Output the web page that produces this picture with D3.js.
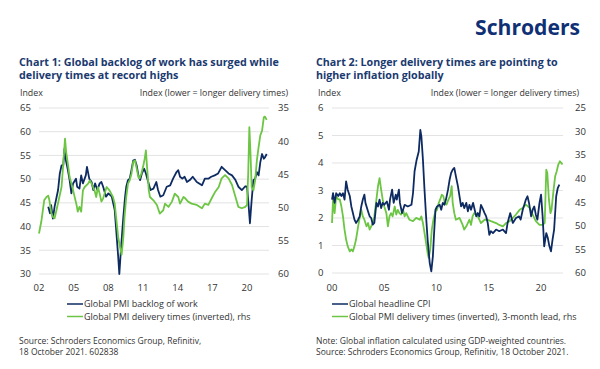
<!DOCTYPE html>
<html>
<head>
<meta charset="utf-8">
<script src="https://cdn.jsdelivr.net/npm/d3@7"></script>
<style>
  body { margin: 0; background: #fff; }
  svg { display: block; font-family: "Open Sans", "Noto Sans", sans-serif; }
</style>
</head>
<body>
<svg id="chart" width="600" height="369"></svg>
<script>
// Chart 1 data: [decimal year, value]
const backlogOfWork = [
  [2002.8, 44.2], [2002.95, 42.8], [2003.05, 44.5], [2003.2, 41.7], [2003.35, 44.2],
  [2003.65, 47.7], [2003.8, 51.2], [2003.95, 52.9], [2004.1, 52.9], [2004.2, 56.4],
  [2004.3, 54.3], [2004.5, 51.9], [2004.65, 49.8], [2004.8, 47.0], [2004.95, 49.1],
  [2005.2, 50.1], [2005.3, 48.4], [2005.5, 48.0], [2005.65, 50.8], [2005.8, 49.1],
  [2006.05, 50.8], [2006.15, 52.6], [2006.35, 50.1], [2006.55, 49.4], [2006.7, 47.7],
  [2006.85, 49.1], [2007.05, 47.7], [2007.25, 49.1], [2007.4, 49.4], [2007.55, 48.4],
  [2007.8, 46.3], [2008.0, 47.0], [2008.3, 46.3], [2008.55, 43.5], [2008.7, 38.6],
  [2008.85, 33.7], [2008.95, 30.0], [2009.05, 33.7], [2009.15, 37.2], [2009.3, 42.1],
  [2009.45, 46.3], [2009.55, 48.4], [2009.7, 49.8], [2009.85, 50.1], [2010.0, 51.9],
  [2010.15, 53.9], [2010.3, 54.1], [2010.45, 52.9], [2010.6, 50.8], [2010.75, 49.8],
  [2010.9, 51.2], [2011.1, 52.2], [2011.25, 51.2], [2011.45, 49.4], [2011.65, 47.7],
  [2011.9, 48.0], [2012.15, 49.4], [2012.3, 47.7], [2012.5, 46.3], [2012.75, 46.6],
  [2013.05, 48.4], [2013.35, 48.7], [2013.6, 50.1], [2013.9, 51.5], [2014.05, 51.9],
  [2014.2, 50.5], [2014.4, 50.1], [2014.6, 50.5], [2014.8, 49.4], [2015.05, 49.8],
  [2015.3, 50.5], [2015.65, 49.4], [2016.1, 48.7], [2016.35, 50.1], [2016.65, 50.1],
  [2016.9, 50.5], [2017.2, 50.8], [2017.5, 51.2], [2017.8, 52.6], [2018.1, 51.9],
  [2018.4, 51.2], [2018.7, 50.8], [2019.0, 49.8], [2019.25, 48.4], [2019.55, 47.7],
  [2019.85, 48.5], [2020.0, 48.4], [2020.1, 45.6], [2020.25, 40.7], [2020.4, 45.6],
  [2020.55, 49.8], [2020.7, 50.1], [2020.85, 51.5], [2021.0, 50.8], [2021.15, 53.6],
  [2021.3, 55.3], [2021.45, 54.3], [2021.55, 54.6], [2021.7, 55.3]
];
// rhs, inverted axis
const deliveryTimes1 = [
  [2002.0, 53.9], [2002.2, 52.1], [2002.45, 48.9], [2002.65, 48.4], [2002.8, 48.2],
  [2002.9, 48.9], [2003.05, 50.7], [2003.2, 51.4], [2003.35, 51.6], [2003.65, 49.3],
  [2003.95, 46.9], [2004.1, 43.4], [2004.25, 39.6], [2004.35, 41.6], [2004.5, 43.4],
  [2004.65, 45.4], [2004.95, 47.4], [2005.25, 49.6], [2005.35, 50.6], [2005.5, 49.9],
  [2005.65, 50.6], [2005.8, 47.4], [2005.95, 46.9], [2006.25, 46.4], [2006.4, 45.9],
  [2006.55, 46.4], [2006.8, 47.4], [2006.95, 48.4], [2007.1, 46.9], [2007.25, 47.9],
  [2007.4, 49.1], [2007.55, 48.6], [2007.85, 46.9], [2008.1, 47.4], [2008.4, 48.4],
  [2008.55, 49.4], [2008.7, 51.9], [2008.85, 54.4], [2009.0, 55.9], [2009.15, 57.1],
  [2009.3, 54.4], [2009.4, 51.4], [2009.55, 48.4], [2009.7, 46.4], [2009.85, 45.9],
  [2010.0, 44.9], [2010.15, 43.1], [2010.3, 42.9], [2010.45, 44.1], [2010.6, 45.4],
  [2010.7, 45.6], [2010.85, 44.9], [2011.0, 43.9], [2011.15, 42.6], [2011.25, 41.4],
  [2011.35, 43.9], [2011.5, 47.4], [2011.6, 48.4], [2011.9, 48.9], [2012.2, 49.6],
  [2012.45, 50.9], [2012.75, 50.4], [2012.9, 49.4], [2013.2, 49.9], [2013.5, 49.1],
  [2013.75, 47.9], [2014.05, 48.4], [2014.2, 49.4], [2014.5, 48.4], [2014.65, 48.6],
  [2014.9, 49.1], [2015.2, 49.4], [2015.65, 49.6], [2016.1, 50.1], [2016.35, 49.4],
  [2016.65, 49.6], [2017.0, 48.4], [2017.25, 47.6], [2017.55, 46.9], [2017.8, 45.6],
  [2018.1, 45.1], [2018.4, 45.6], [2018.7, 46.6], [2019.0, 48.4], [2019.25, 49.9],
  [2019.55, 50.1], [2019.85, 49.9], [2020.0, 49.6], [2020.1, 44.9], [2020.2, 37.9],
  [2020.3, 41.9], [2020.4, 46.9], [2020.55, 47.4], [2020.7, 45.9], [2020.85, 42.9],
  [2021.0, 40.9], [2021.15, 39.1], [2021.3, 38.4], [2021.45, 36.4], [2021.55, 36.3],
  [2021.7, 36.8]
];

// Chart 2 data
const headlineCPI = [
  [2000.0, 2.67], [2000.1, 2.9], [2000.25, 2.55], [2000.4, 2.9], [2000.6, 2.8],
  [2000.75, 2.9], [2000.9, 2.8], [2001.05, 2.9], [2001.2, 2.67], [2001.35, 3.33],
  [2001.5, 3.03], [2001.7, 2.8], [2001.85, 2.42], [2002.0, 2.18], [2002.15, 1.94],
  [2002.3, 1.82], [2002.5, 1.94], [2002.65, 2.06], [2002.8, 2.42], [2002.95, 2.67],
  [2003.1, 2.85], [2003.2, 2.55], [2003.45, 2.24], [2003.6, 2.06], [2003.75, 2.0],
  [2003.9, 1.76], [2004.05, 1.82], [2004.25, 2.55], [2004.4, 2.42], [2004.55, 2.67],
  [2004.7, 2.36], [2004.85, 2.55], [2005.0, 2.48], [2005.25, 2.6], [2005.45, 2.3],
  [2005.55, 2.67], [2005.75, 3.03], [2005.9, 2.55], [2006.1, 2.85], [2006.2, 2.67],
  [2006.4, 3.03], [2006.5, 2.55], [2006.7, 2.18], [2006.95, 2.48], [2007.25, 2.42],
  [2007.6, 2.48], [2007.75, 2.9], [2007.9, 3.7], [2008.1, 4.12], [2008.3, 4.42],
  [2008.45, 5.2], [2008.55, 4.97], [2008.7, 4.12], [2008.85, 3.03], [2009.0, 2.06],
  [2009.15, 1.21], [2009.35, 0.36], [2009.5, 0.06], [2009.65, 0.6], [2009.75, 1.33],
  [2009.9, 2.3], [2010.05, 2.42], [2010.3, 2.48], [2010.45, 2.3], [2010.6, 2.55],
  [2010.75, 2.48], [2010.9, 2.67], [2011.1, 3.03], [2011.25, 3.39], [2011.4, 3.64],
  [2011.55, 3.76], [2011.7, 3.82], [2011.85, 3.52], [2012.05, 3.15], [2012.2, 2.79],
  [2012.35, 2.42], [2012.5, 2.55], [2012.65, 2.36], [2012.85, 2.55], [2013.0, 2.24],
  [2013.15, 2.48], [2013.3, 2.3], [2013.5, 2.55], [2013.65, 2.3], [2013.8, 2.06],
  [2013.95, 2.18], [2014.1, 2.06], [2014.25, 2.48], [2014.4, 2.36], [2014.6, 2.18],
  [2014.75, 2.06], [2014.9, 1.82], [2015.05, 1.39], [2015.2, 1.52], [2015.4, 1.45],
  [2015.7, 1.58], [2016.0, 1.52], [2016.35, 1.58], [2016.65, 1.45], [2016.8, 1.82],
  [2017.05, 2.18], [2017.3, 1.82], [2017.6, 2.0], [2017.9, 2.06], [2018.05, 1.94],
  [2018.25, 2.3], [2018.4, 2.48], [2018.55, 2.67], [2018.7, 2.79], [2018.85, 2.55],
  [2019.05, 2.06], [2019.2, 2.3], [2019.35, 2.42], [2019.5, 2.12], [2019.65, 1.94],
  [2019.85, 2.55], [2020.0, 2.85], [2020.15, 2.06], [2020.3, 0.97], [2020.5, 1.45],
  [2020.65, 1.27], [2020.8, 0.97], [2020.95, 0.79], [2021.1, 1.21], [2021.25, 1.58],
  [2021.45, 2.79], [2021.6, 3.09], [2021.75, 3.21]
];
// rhs, inverted axis, 3-month lead
const deliveryTimes2 = [
  [2000.0, 49.4], [2000.1, 44.4], [2000.25, 47.3], [2000.4, 43.7], [2000.6, 44.4],
  [2000.75, 44.4], [2000.9, 45.9], [2001.05, 48.0], [2001.2, 50.8], [2001.35, 52.9],
  [2001.5, 54.3], [2001.7, 55.4], [2001.85, 55.0], [2002.0, 55.4], [2002.15, 54.3],
  [2002.3, 52.9], [2002.5, 50.1], [2002.65, 48.3], [2002.8, 46.6], [2002.95, 48.0],
  [2003.1, 48.7], [2003.3, 50.1], [2003.45, 49.4], [2003.6, 50.8], [2003.75, 50.1],
  [2003.9, 49.4], [2004.05, 48.0], [2004.25, 44.4], [2004.4, 41.6], [2004.55, 39.9],
  [2004.7, 42.3], [2004.85, 44.4], [2005.0, 45.9], [2005.2, 47.3], [2005.35, 50.1],
  [2005.5, 48.0], [2005.65, 47.3], [2005.8, 48.0], [2006.0, 45.9], [2006.15, 47.6],
  [2006.3, 46.6], [2006.45, 47.3], [2006.6, 47.6], [2006.8, 46.6], [2006.95, 48.0],
  [2007.1, 47.3], [2007.4, 48.7], [2007.75, 49.0], [2008.05, 48.3], [2008.4, 48.7],
  [2008.55, 48.0], [2008.7, 49.4], [2008.85, 51.5], [2009.0, 53.6], [2009.15, 55.8],
  [2009.25, 56.8], [2009.4, 55.0], [2009.55, 50.8], [2009.7, 48.7], [2009.9, 46.9],
  [2010.05, 46.6], [2010.2, 45.2], [2010.35, 44.4], [2010.5, 43.4], [2010.65, 43.7],
  [2010.8, 45.2], [2010.95, 45.5], [2011.15, 44.4], [2011.3, 43.7], [2011.45, 41.6],
  [2011.55, 45.2], [2011.7, 47.3], [2011.85, 48.7], [2012.2, 48.3], [2012.5, 49.8],
  [2012.65, 50.8], [2012.85, 50.1], [2013.15, 48.7], [2013.3, 49.8], [2013.45, 48.0],
  [2013.6, 47.3], [2013.95, 48.0], [2014.25, 49.4], [2014.6, 48.7], [2014.9, 48.7],
  [2015.2, 49.0], [2015.7, 49.4], [2016.0, 49.8], [2016.35, 50.1], [2016.65, 49.4],
  [2017.0, 49.0], [2017.3, 48.3], [2017.6, 47.6], [2017.95, 46.6], [2018.25, 46.2],
  [2018.55, 45.5], [2018.9, 46.2], [2019.2, 47.6], [2019.5, 49.0], [2019.85, 49.8],
  [2020.15, 49.8], [2020.35, 49.4], [2020.5, 38.1], [2020.6, 38.8], [2020.75, 44.4],
  [2020.9, 47.3], [2021.0, 46.6], [2021.2, 42.3], [2021.35, 39.5], [2021.5, 38.4],
  [2021.65, 37.0], [2021.8, 36.3], [2021.95, 36.7], [2022.05, 37.0]
];

const ticks1Left = [30, 35, 40, 45, 50, 55, 60, 65];
const ticks1Right = [35, 40, 45, 50, 55, 60];
const ticks1X = [2002, 2005, 2008, 2011, 2014, 2017, 2020];
const ticks2Left = [0, 1, 2, 3, 4, 5, 6];
const ticks2Right = [25, 30, 35, 40, 45, 50, 55, 60];
const ticks2X = [2000, 2005, 2010, 2015, 2020];

const NAVY = '#0d2b62';
const GREEN = '#6cc644';
const TITLE = '#1b3a6f';
const TEXT = '#333';

const svg = d3.select('#chart');

// logo
svg.append('text')
  .attr('x', 475).attr('y', 35)
  .attr('textLength', 105).attr('lengthAdjust', 'spacingAndGlyphs')
  .style('font-size', '22px').style('font-weight', 'bold')
  .style('fill', '#0f3074')
  .text('Schroders');

function drawPanel(p) {
  const g = svg.append('g');
  const x = d3.scaleLinear().domain(p.xDomain).range(p.xRange);
  const yL = d3.scaleLinear().domain(p.leftDomain).range([p.bottom, p.top]);
  const yR = d3.scaleLinear().domain(p.rightDomain).range([p.bottom, p.top]);

  // title, sized so the first line spans the same width as in the original
  const title = g.append('text')
    .attr('x', p.titleX).attr('y', 66)
    .style('font-size', '12px').style('font-weight', 'bold').style('fill', TITLE);
  p.title.forEach((t, i) => {
    title.append('tspan').attr('x', p.titleX).attr('dy', i === 0 ? 0 : 12.5).text(t);
  });
  const firstLen = title.select('tspan').node().getComputedTextLength();
  title.style('font-size', (12 * p.titleWidth / firstLen).toFixed(2) + 'px');

  // axis headers
  g.append('text').attr('x', p.leftLabelX).attr('y', 96)
    .style('font-size', '8.8px').style('fill', TEXT).text('Index');
  g.append('text').attr('x', p.rightHeaderX).attr('y', 96)
    .attr('text-anchor', 'end')
    .style('font-size', '8.8px').style('fill', TEXT)
    .text('Index (lower = longer delivery times)');

  // gridlines
  g.append('g').selectAll('line')
    .data(p.leftTicks)
    .join('line')
    .attr('x1', p.xRange[0]).attr('x2', p.xRange[1])
    .attr('y1', d => yL(d)).attr('y2', d => yL(d))
    .attr('stroke', '#e3e3e3').attr('stroke-width', 1);

  // left axis labels
  g.append('g').selectAll('text')
    .data(p.leftTicks)
    .join('text')
    .attr('x', p.leftLabelX).attr('y', d => yL(d)).attr('dy', '0.35em')
    .style('font-size', '9.5px').style('fill', TEXT)
    .text(d => d);

  // right axis labels
  g.append('g').selectAll('text')
    .data(p.rightTicks)
    .join('text')
    .attr('x', p.rightLabelX).attr('y', d => yR(d)).attr('dy', '0.35em')
    .style('font-size', '9.5px').style('fill', TEXT)
    .text(d => d);

  // x labels
  g.append('g').selectAll('text')
    .data(p.xTicks)
    .join('text')
    .attr('x', d => x(d)).attr('y', 291)
    .attr('text-anchor', 'middle')
    .style('font-size', '9.5px').style('fill', TEXT)
    .text(d => String(d % 100).padStart(2, '0'));

  const lineL = d3.line().x(d => x(d[0])).y(d => yL(d[1]));
  const lineR = d3.line().x(d => x(d[0])).y(d => yR(d[1]));

  const series = [
    { data: p.blue, line: lineL, color: NAVY },
    { data: p.green, line: lineR, color: GREEN }
  ];
  if (!p.greenOnTop) series.reverse();
  series.forEach(s => {
    g.append('path')
      .datum(s.data)
      .attr('d', s.line)
      .attr('fill', 'none')
      .attr('stroke', s.color)
      .attr('stroke-width', 1.8)
      .attr('stroke-linejoin', 'round');
  });

  // legend
  p.legend.forEach((l, i) => {
    const ly = 304 + i * 12.5;
    g.append('line')
      .attr('x1', p.legendX).attr('x2', p.legendX + 16)
      .attr('y1', ly).attr('y2', ly)
      .attr('stroke', i === 0 ? NAVY : GREEN).attr('stroke-width', 1.5);
    g.append('text')
      .attr('x', p.legendX + 17).attr('y', ly).attr('dy', '0.35em')
      .style('font-size', '9px').style('fill', TEXT)
      .text(l);
  });

  // source
  p.source.forEach((s, i) => {
    g.append('text')
      .attr('x', p.titleX).attr('y', 344 + i * 10.5)
      .style('font-size', '8.5px').style('fill', TEXT)
      .text(s);
  });
}

drawPanel({
  title: ['Chart 1: Global backlog of work has surged while', 'delivery times at record highs'],
  titleX: 19, titleWidth: 260,
  xDomain: [2002, 2021.9], xRange: [39, 269],
  top: 108, bottom: 274,
  leftDomain: [30, 65], rightDomain: [60, 35],
  leftTicks: ticks1Left, rightTicks: ticks1Right, xTicks: ticks1X,
  leftLabelX: 20, rightLabelX: 278, rightHeaderX: 288,
  blue: backlogOfWork, green: deliveryTimes1, greenOnTop: true,
  legendX: 67,
  legend: ['Global PMI backlog of work', 'Global PMI delivery times (inverted), rhs'],
  source: ['Source: Schroders Economics Group, Refinitiv,', '18 October 2021. 602838']
});

drawPanel({
  title: ['Chart 2: Longer delivery times are pointing to', 'higher inflation globally'],
  titleX: 316, titleWidth: 242,
  xDomain: [2000, 2022.1], xRange: [332, 563],
  top: 108, bottom: 273,
  leftDomain: [0, 6], rightDomain: [60, 25],
  leftTicks: ticks2Left, rightTicks: ticks2Right, xTicks: ticks2X,
  leftLabelX: 318, rightLabelX: 575, rightHeaderX: 579,
  blue: headlineCPI, green: deliveryTimes2, greenOnTop: false,
  legendX: 332,
  legend: ['Global headline CPI', 'Global PMI delivery times (inverted), 3-month lead, rhs'],
  source: ['Note: Global inflation calculated using GDP-weighted countries.',
           'Source: Schroders Economics Group, Refinitiv, 18 October 2021.']
});
</script>
</body>
</html>
